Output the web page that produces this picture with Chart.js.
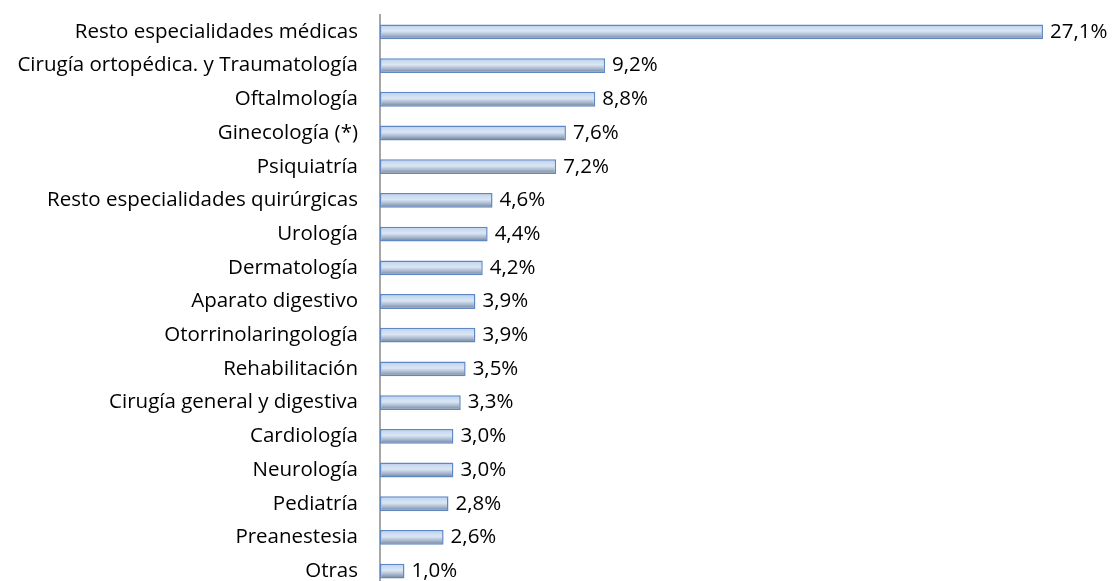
<!DOCTYPE html>
<html><head><meta charset="utf-8">
<script src="https://cdn.jsdelivr.net/npm/chart.js@4/dist/chart.umd.min.js"></script>
<style>html,body{margin:0;padding:0;background:#fff;overflow:hidden;width:1112px;height:581px}canvas{display:block}</style>
</head><body><canvas id="c" width="1112" height="590"></canvas>
<script>
const categories = ["Resto especialidades médicas","Cirugía ortopédica. y Traumatología","Oftalmología","Ginecología (*)","Psiquiatría","Resto especialidades quirúrgicas","Urología","Dermatología","Aparato digestivo","Otorrinolaringología","Rehabilitación","Cirugía general y digestiva","Cardiología","Neurología","Pediatría","Preanestesia","Otras"];
const values = [27.1,9.2,8.8,7.6,7.2,4.6,4.4,4.2,3.9,3.9,3.5,3.3,3.0,3.0,2.8,2.6,1.0];
const valueLabels = values.map(v => v.toFixed(1).replace('.', ',') + '%');

const FONT = '"Open Sans", sans-serif';
const BAR_PCT = 0.44;

function barFill(ctx) {
  const chart = ctx.chart;
  const ys = chart.scales && chart.scales.y;
  if (!ys || ctx.dataIndex === undefined) return '#c6d9f1';
  const yc = ys.getPixelForValue(ctx.dataIndex);
  const h = (ys.height / categories.length) * BAR_PCT;
  const top = yc - h / 2, bot = yc + h / 2;
  if (!isFinite(top) || !isFinite(bot)) return '#c6d9f1';
  const g = chart.ctx.createLinearGradient(0, top, 0, bot);
  g.addColorStop(0, '#b3cbe9');
  g.addColorStop(0.2, '#c9dbf2');
  g.addColorStop(0.45, '#dbe6f3');
  g.addColorStop(0.72, '#a7b7ce');
  g.addColorStop(1, '#6c7c93');
  return g;
}

const labelPlugin = {
  id: 'valLabels',
  afterDatasetsDraw(chart) {
    const c = chart.ctx;
    const meta = chart.getDatasetMeta(0);
    c.save();
    c.font = '20.5px ' + FONT;
    c.fillStyle = '#000';
    c.textAlign = 'left';
    c.textBaseline = 'middle';
    meta.data.forEach((bar, i) => {
      c.fillText(valueLabels[i], bar.x + 7, bar.y);
    });
    c.restore();
  }
};

new Chart(document.getElementById('c'), {
  type: 'bar',
  data: {
    labels: categories,
    datasets: [{
      data: values,
      backgroundColor: barFill,
      borderColor: '#5f88c2',
      borderWidth: 1.5,
      borderSkipped: false,
      barPercentage: BAR_PCT,
      categoryPercentage: 1
    }]
  },
  options: {
    indexAxis: 'y',
    responsive: false,
    maintainAspectRatio: false,
    animation: false,
    devicePixelRatio: 1,
    layout: { padding: { top: 15, bottom: 2, left: 0, right: 47 } },
    plugins: { legend: { display: false }, tooltip: { enabled: false } },
    scales: {
      x: {
        display: false,
        min: 0, max: 28
      },
      y: {
        afterFit(scale) { scale.width = 380; scale.paddingTop = 0; scale.paddingBottom = 0; },
        grid: { display: false, drawTicks: false },
        border: { display: true, color: '#a6a6a6', width: 2 },
        ticks: { color: '#000', padding: 22, font: { family: FONT, size: 20.5 } }
      }
    }
  },
  plugins: [labelPlugin]
});
</script>
</body></html>
